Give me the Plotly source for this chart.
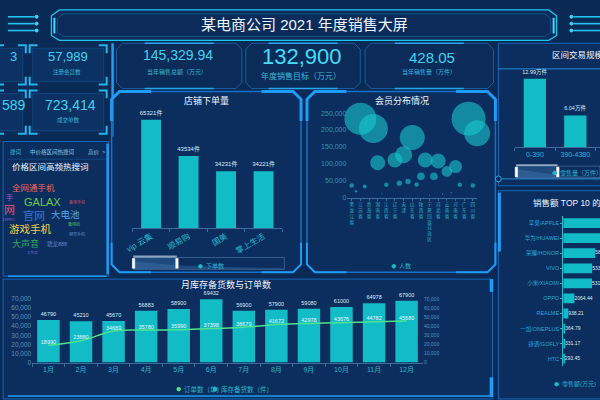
import plotly.graph_objects as go

W, H = 600, 400
FONT = "Liberation Sans, Noto Sans CJK SC, sans-serif"

# ---------------- data ----------------
shop_names = ["vip 云集", "顺易购", "国美", "掌上生活"]
shop_orders = [65321, 43534, 34231, 34221]

provinces = ["黑龙江省", "江苏省", "青海省", "湖南省", "江西省", "辽宁省", "天津", "山东省",
             "陕西省", "宁夏回族自治区", "河北省", "云南省", "河南省", "广东省", "四川省"]
member_pos = [0, 0.5, 1, 1.5, 2.5, 3, 3.5, 4, 5, 5.5, 6, 6.5, 7, 7.5, 8, 8.5, 9, 9.5,
              10, 10.5, 11, 11.5, 12, 12.5, 13.5, 14, 14.5]
member_counts = [35700, 18300, 233500, 32800, 204600, 103000, 11600, 37600, 111000, 42500,
                 127000, 47300, 177600, 38600, 62700, 111000, 6700, 62700, 108000, 11600,
                 77200, 14500, 91700, 37600, 233500, 35700, 190000]
member_sizes = [4.5, 2.5, 32, 4, 29, 15, 1.2, 4.5, 15, 5.4, 17, 5.4, 25, 4.5, 7.7, 15, 1.2, 7.7, 15,
                1.5, 10.7, 1.5, 13, 4.5, 34, 4.5, 26]

price_ranges = ["0-390", "390-4380"]
range_volume = [12.99, 6.04]

brands = ["苹果/APPLE", "华为/HUAWEI", "荣耀/HONOR", "VIVO", "小米/XIAOMI", "OPPO",
          "REALME", "一加/ONEPLUS", "捷语/GOFLY", "HTC"]
brand_sales = [12580.32, 10835.61, 5890.12, 5332.40, 5310.27, 2064.44, 938.21, 364.79,
               331.17, 293.45]

months = ["1月", "2月", "3月", "4月", "5月", "6月", "7月", "8月", "9月", "10月", "11月", "12月"]
stock = [46790, 45210, 45670, 56883, 58900, 69432, 56900, 57900, 59080, 61000, 64978, 67900]
orders = [18990, 23880, 34689, 35780, 35990, 37398, 38679, 41672, 42978, 43676, 44782, 45680]

kpi_values = ["3", "57,989", "589", "723,414", "145,329.94", "132,900", "428.05"]
kpi_labels = ["注册会员数", "成交单数", "当年销售总额（万元）", "年度销售目标（万元）", "当年销售量（万件）"]

words = ["全网通手机", "手", "GALAX", "备用手机", "网", "官网", "大电池", "13PRO", "备用机",
         "游戏手机", "钢琴手机", "大声音", "骁龙888", "工作室"]

# ---------------- helpers ----------------
def fx(x): return x / W
def fy(y): return 1 - y / H
def P(x, y): return f"{fx(x):.5f},{fy(y):.5f}"

shapes = []
annos = []

def path(pts, color, width=1, fill=None, close=False, layer="below"):
    d = "M " + " L ".join(P(x, y) for x, y in pts) + (" Z" if close else "")
    shapes.append(dict(type="path", xref="paper", yref="paper", path=d, layer=layer,
                       line=dict(color=color, width=width),
                       fillcolor=fill if fill else "rgba(0,0,0,0)"))

def rect(x0, y0, x1, y1, color="rgba(0,0,0,0)", width=1, fill=None, layer="below"):
    shapes.append(dict(type="rect", xref="paper", yref="paper", x0=fx(x0), x1=fx(x1),
                       y0=fy(y1), y1=fy(y0), layer=layer,
                       line=dict(color=color, width=width),
                       fillcolor=fill if fill else "rgba(0,0,0,0)"))

def line(x0, y0, x1, y1, color, width=1, layer="below"):
    shapes.append(dict(type="line", xref="paper", yref="paper", x0=fx(x0), x1=fx(x1),
                       y0=fy(y0), y1=fy(y1), layer=layer, line=dict(color=color, width=width)))

def circle(cx, cy, r, color, fill=None, width=1, layer="above"):
    shapes.append(dict(type="circle", xref="paper", yref="paper", x0=fx(cx - r), x1=fx(cx + r),
                       y0=fy(cy + r), y1=fy(cy - r), layer=layer,
                       line=dict(color=color, width=width),
                       fillcolor=fill if fill else "rgba(0,0,0,0)"))

def corners(x0, y0, x1, y1, L, color, width):
    path([(x0, y0 + L), (x0, y0), (x0 + L, y0)], color, width)
    path([(x1 - L, y0), (x1, y0), (x1, y0 + L)], color, width)
    path([(x0, y1 - L), (x0, y1), (x0 + L, y1)], color, width)
    path([(x1 - L, y1), (x1, y1), (x1, y1 - L)], color, width)

def text(x, y, s, size, color, anchor="center", yanchor="middle"):
    annos.append(dict(x=fx(x), y=fy(y), xref="paper", yref="paper", text=s, showarrow=False,
                      xanchor=anchor, yanchor=yanchor, font=dict(size=size, color=color, family=FONT)))

PANEL_FILL = "rgba(13,52,104,0.45)"
EDGE = "#1766b8"
BRIGHT = "#1f9cf5"

# ---------------- decorations ----------------
path([(52, 6), (548, 6), (556, 12), (556, 32), (548, 37), (52, 37), (44, 32), (44, 12)],
     "#1ec6ef", 1.3, fill="rgba(12,46,92,0.7)", close=True)
path([(56, 10), (544, 10), (550, 15), (550, 29), (544, 33), (56, 33), (50, 29), (50, 15)],
     "rgba(40,190,240,0.35)", 0.8, close=True)
line(47, 14, 47, 30, "#39dcff", 2)
line(553, 14, 553, 30, "#39dcff", 2)
for yy in (13, 20, 27):
    line(0, yy, 27, yy, "#22c4ee", 1.6)
    circle(29, yy, 1.5, "#44d8ff", fill="#44d8ff", layer="below")
    line(573, yy, 600, yy, "#22c4ee", 1.6)
    circle(571, yy, 1.5, "#44d8ff", fill="#44d8ff", layer="below")

for (x0, y0, x1, y1) in [(-12, 42, 18, 82), (22, 42, 100, 82), (-12, 88, 18, 132), (22, 88, 100, 132)]:
    rect(x0 + 3, y0 + 3, x1 - 3, y1 - 3, "rgba(30,110,190,0.45)", 0.8, fill="rgba(14,60,112,0.45)")
    corners(x0, y0, x1, y1, 8, "#22b6ee", 2)
line(106, 40, 106, 135, "#1f9cf5", 2.5)

for (x0, y0, x1, y1) in [(110, 40, 237, 86), (241, 40, 357, 86), (362, 40, 492, 86)]:
    path([(x0 + 6, y0), (x1 - 6, y0), (x1, y0 + 6), (x1, y1 - 6), (x1 - 6, y1), (x0 + 6, y1),
          (x0, y1 - 6), (x0, y0 + 6)], "#1c5c9e", 1, fill="rgba(12,48,96,0.4)", close=True)
    mx = (x0 + x1) / 2
    line(mx - 35, y0, mx + 35, y0, "#2aa6ea", 1.5)
    line(mx - 35, y1, mx + 35, y1, "#2aa6ea", 1.5)

rect(497, 40, 604, 185, EDGE, 1, fill=PANEL_FILL)
line(497, 66, 600, 66, "#1f8fd8", 1)
line(500, 178, 600, 178, "#1f8fd8", 1)
circle(497, 178, 3, "#2aa6ea", fill="#0a2a56", width=1)

rect(-5, 140, 102, 277, EDGE, 1, fill=PANEL_FILL)
line(101, 142, 101, 275, BRIGHT, 2.5)
line(0, 277, 100, 277, BRIGHT, 1.5)
line(0, 158, 100, 158, "rgba(40,120,200,0.4)", 0.8)

for (x0, y0, x1, y1) in [(105, 89, 297, 273), (303, 89, 494, 273)]:
    path([(x0 + 8, y0), (x1 - 8, y0), (x1, y0 + 8), (x1, y1 - 8), (x1 - 8, y1), (x0 + 8, y1),
          (x0, y1 - 8), (x0, y0 + 8)], "#1670c8", 1.5, fill=PANEL_FILL, close=True)
    path([(x0, y0 + 30), (x0, y0 + 8), (x0 + 8, y0), (x0 + 40, y0)], BRIGHT, 3)
    path([(x1 - 40, y0), (x1 - 8, y0), (x1, y0 + 8), (x1, y0 + 30)], BRIGHT, 3)
    path([(x0, y1 - 30), (x0, y1 - 8), (x0 + 8, y1), (x0 + 40, y1)], BRIGHT, 2)
    path([(x1 - 40, y1), (x1 - 8, y1), (x1, y1 - 8), (x1, y1 - 30)], BRIGHT, 2)

rect(497, 190, 604, 402, EDGE, 1, fill=PANEL_FILL)
line(498, 192, 498, 252, BRIGHT, 3)

rect(-5, 280, 491, 402, EDGE, 1, fill=PANEL_FILL)
line(490, 280, 490, 293, BRIGHT, 3.5)
line(490, 380, 490, 400, BRIGHT, 3.5)
line(0, 399, 490, 399, BRIGHT, 1.5)

rect(127, 258, 280, 270, "rgba(120,160,200,0.5)", 0.8)
path([(127, 262), (150, 264), (171, 266), (230, 268), (280, 269), (280, 270), (127, 270)],
     "rgba(0,0,0,0)", 0, fill="rgba(70,120,180,0.35)", close=True)
rect(127, 258, 171, 270, "rgba(0,0,0,0)", 0, fill="rgba(80,140,200,0.3)")
rect(127, 256, 171, 258, "rgba(0,0,0,0)", 0, fill="rgba(200,215,230,0.7)")
rect(126, 259, 128.5, 269, "#ffffff", 0.5, fill="#ffffff", layer="above")
rect(170, 259, 172.5, 269, "#ffffff", 0.5, fill="#ffffff", layer="above")

rect(515, 165, 600, 177, "rgba(120,160,200,0.5)", 0.8)
path([(515, 168), (535, 171), (557, 174), (600, 176), (600, 177), (515, 177)],
     "rgba(0,0,0,0)", 0, fill="rgba(70,120,180,0.35)", close=True)
rect(515, 165, 557, 177, "rgba(0,0,0,0)", 0, fill="rgba(80,140,200,0.3)")
rect(515, 163, 557, 165, "rgba(0,0,0,0)", 0, fill="rgba(200,215,230,0.7)")
rect(514, 166, 516.5, 176, "#ffffff", 0.5, fill="#ffffff", layer="above")
rect(556, 166, 558.5, 176, "#ffffff", 0.5, fill="#ffffff", layer="above")

# ---------------- texts ----------------
text(300, 21, "某电商公司 2021 年度销售大屏", 15, "#eef6ff")

VAL = "#40d2f0"
LAB = "#3cb8d8"
text(6, 53, kpi_values[0], 13, VAL)
text(61, 53, kpi_values[1], 13, VAL)
text(60, 69, kpi_labels[0], 5.5, LAB)
text(20, 103, kpi_values[2], 14, VAL, anchor="right")
text(63, 103, kpi_values[3], 14, VAL)
text(61, 118, kpi_labels[1], 5.5, LAB)
text(172, 52, kpi_values[4], 14, VAL)
text(171, 69, kpi_labels[2], 6, LAB)
text(298, 53, kpi_values[5], 22, "#44dcf6")
text(297, 73, kpi_labels[3], 8, LAB)
text(430, 54, kpi_values[6], 15, VAL)
text(427, 69, kpi_labels[4], 6, LAB)

text(201, 98, "店铺下单量", 9, "#eef6ff")
text(399, 98, "会员分布情况", 9, "#eef6ff")
text(549, 52, "区间交易规模", 8.5, "#eef6ff", anchor="left")
text(530, 203, "销售额 TOP 10 的品牌", 8.5, "#eef6ff", anchor="left")
text(221, 286, "月库存备货数与订单数", 9, "#eef6ff")
text(2, 166, "价格区间高频热搜词", 8.5, "#eef6ff", anchor="left")
text(0, 151, "搜词", 5.5, "#3fc0d8", anchor="left")
text(45, 151, "中价格区间热搜词", 5.5, "#8fc8e8")
text(90, 151, "高价  >", 5.5, "#8fc8e8")

word_xy = [(26, 187), (7, 197), (35, 202), (70, 202), (9, 210), (26, 215), (58, 214), (9, 219),
           (67, 224), (23, 229), (70, 234), (18, 244), (50, 244), (25, 253)]
word_size = [8.5, 7, 11, 4, 11, 11, 9.5, 4, 4, 10.5, 4, 9, 5.5, 3.5]
word_color = ["#e8685a", "#b04cd8", "#6fc84f", "#d24a5a", "#e2527e", "#3d72d6", "#58a6e6",
              "#9a58d0", "#5cc05c", "#f0d24a", "#5a8ad8", "#35a85e", "#6a84cc", "#8a5cc8"]
word_anchor = ["center", "right", "center", "center", "right", "center", "center", "right",
               "center", "center", "center", "center", "center", "center"]
for w, (x, y), s, c, a in zip(words, word_xy, word_size, word_color, word_anchor):
    text(x, y, w, s, c, anchor=a)

TEAL = "#14c0c8"
LEG = "#2cb8cc"
circle(195, 267, 1.8, TEAL, fill=TEAL)
text(198.5, 267, "下单数", 6, LEG, anchor="left")
circle(391, 267, 1.8, TEAL, fill=TEAL)
text(394.5, 267, "人数", 6, LEG, anchor="left")
circle(554, 172, 1.8, TEAL, fill=TEAL)
text(557, 172, "零售量（万件）", 6, LEG, anchor="left")
circle(556, 387, 1.8, TEAL, fill=TEAL)
text(559.5, 387, "零售额(万元)", 6, LEG, anchor="left")
circle(173, 392, 1.8, "#4ee38c", fill="#4ee38c")
text(176.5, 392, "订单数（单）", 6.5, LEG, anchor="left")
circle(210, 392, 1.8, TEAL, fill=TEAL)
text(213.5, 392, "库存备货数（件）", 6.5, LEG, anchor="left")

# ---------------- traces ----------------
BAR = "#12bcc6"
LBL = "#d8ecf8"
RANK_MAX = 6780
fig = go.Figure()

fig.add_trace(go.Bar(x=shop_names, y=shop_orders, xaxis="x", yaxis="y", width=0.53,
                     marker=dict(color=BAR, line=dict(width=0)),
                     text=[f"{v}件" for v in shop_orders], textposition="outside",
                     constraintext="none", cliponaxis=False,
                     textfont=dict(size=6, color=LBL, family=FONT)))

fig.add_trace(go.Scatter(x=member_pos, y=member_counts, mode="markers", xaxis="x2", yaxis="y2",
                         cliponaxis=False,
                         marker=dict(size=member_sizes, color="rgba(26,202,208,0.84)",
                                     line=dict(width=0))))

fig.add_trace(go.Bar(x=price_ranges, y=range_volume, xaxis="x3", yaxis="y3", width=0.55,
                     marker=dict(color=BAR, line=dict(width=0)),
                     text=[f"{v}万件" for v in range_volume], textposition="outside",
                     constraintext="none", cliponaxis=False,
                     textfont=dict(size=5.5, color=LBL, family=FONT)))

fig.add_trace(go.Bar(y=brands, x=brand_sales, orientation="h", xaxis="x4", yaxis="y4", width=0.65,
                     marker=dict(color=BAR, line=dict(width=0))))
fig.add_trace(go.Scatter(y=brands, x=brand_sales, mode="text", xaxis="x4", yaxis="y4",
                         text=[f"{v:.2f}" if v < RANK_MAX else "" for v in brand_sales],
                         textposition="middle right",
                         cliponaxis=True, textfont=dict(size=5, color=LBL, family=FONT)))

fig.add_trace(go.Bar(x=months, y=stock, xaxis="x5", yaxis="y5", width=0.69,
                     marker=dict(color=BAR, line=dict(width=0)),
                     text=[str(v) for v in stock], textposition="outside",
                     constraintext="none", cliponaxis=False,
                     textfont=dict(size=5.5, color=LBL, family=FONT)))
fig.add_trace(go.Scatter(x=months, y=orders, xaxis="x5", yaxis="y6", mode="lines+text",
                         line=dict(shape="spline", color="#4ee38c", width=1.5),
                         text=[str(v) for v in orders], textposition="top center",
                         cliponaxis=False, textfont=dict(size=5.5, color="#e8f4ff", family=FONT)))

AX = "#3c6c9c"
TICK = "#2cb8cc"
def xcat(domain, anchor, rng, **kw):
    d = dict(domain=domain, anchor=anchor, type="category", range=rng, showgrid=False,
             zeroline=False, showline=True, linecolor=AX, linewidth=1, ticks="outside",
             tickson="boundaries", ticklen=3, tickcolor=AX,
             tickfont=dict(size=7, color=TICK, family=FONT))
    d.update(kw)
    return d

fig.update_layout(
    width=W, height=H, margin=dict(l=0, r=0, t=0, b=0),
    paper_bgcolor="#0a2a56", plot_bgcolor="rgba(0,0,0,0)", showlegend=False,
    font=dict(family=FONT),
    xaxis=xcat([126 / W, 278 / W], "y", [-0.5, 3.5], tickangle=-30,
               tickfont=dict(size=8, color=TICK, family=FONT)),
    yaxis=dict(domain=[fy(228), fy(110)], anchor="x", range=[0, 70000], visible=False),
    xaxis2=dict(domain=[344 / W, 475.5 / W], anchor="y2", range=[-0.5, 14.5], showgrid=False,
                zeroline=False, showline=True, linecolor=AX, ticks="outside", ticklen=2,
                tickcolor=AX, tickvals=list(range(len(provinces))),
                ticktext=["<br>".join(p) for p in provinces],
                tickfont=dict(size=4.5, color=TICK, family=FONT)),
    yaxis2=dict(domain=[fy(197), fy(111)], anchor="x2", range=[0, 250000], showgrid=False,
                zeroline=False, showline=False, tickvals=[0, 50000, 100000, 150000, 200000, 250000],
                tickformat=",", tickfont=dict(size=7, color="#3596b8", family=FONT)),
    xaxis3=xcat([513.5 / W, 1], "y3", [-0.5, 1.61]),
    yaxis3=dict(domain=[fy(146), fy(70.6)], anchor="x3", range=[0, 14], visible=False),
    xaxis4=dict(domain=[562.7 / W, 1], anchor="y4", range=[0, RANK_MAX], visible=False),
    yaxis4=dict(domain=[fy(368.7), fy(215.3)], anchor="x4", type="category",
                categoryorder="array", categoryarray=brands, range=[9.5, -0.5],
                showgrid=False, zeroline=False, showline=True, linecolor="#2cb6c9",
                ticks="outside", ticklen=2, tickcolor="#2cb6c9",
                tickfont=dict(size=5.5, color="#2aa8d8", family=FONT)),
    xaxis5=xcat([24.5 / W, 420.5 / W], "y5", [-0.5, 11.5]),
    yaxis5=dict(domain=[fy(365), fy(300)], anchor="x5", range=[0, 70000], dtick=10000,
                tickformat=",", showgrid=False, zeroline=False, showline=False,
                tickfont=dict(size=6.5, color="#5b8fb8", family=FONT)),
    yaxis6=dict(overlaying="y5", anchor="x5", side="right", range=[0, 70000], dtick=10000,
                tickformat=",", showgrid=False, zeroline=False, showline=False,
                tickfont=dict(size=5, color="#5b8fb8", family=FONT)),
    shapes=shapes, annotations=annos,
)

fig.write_html("out.html")
